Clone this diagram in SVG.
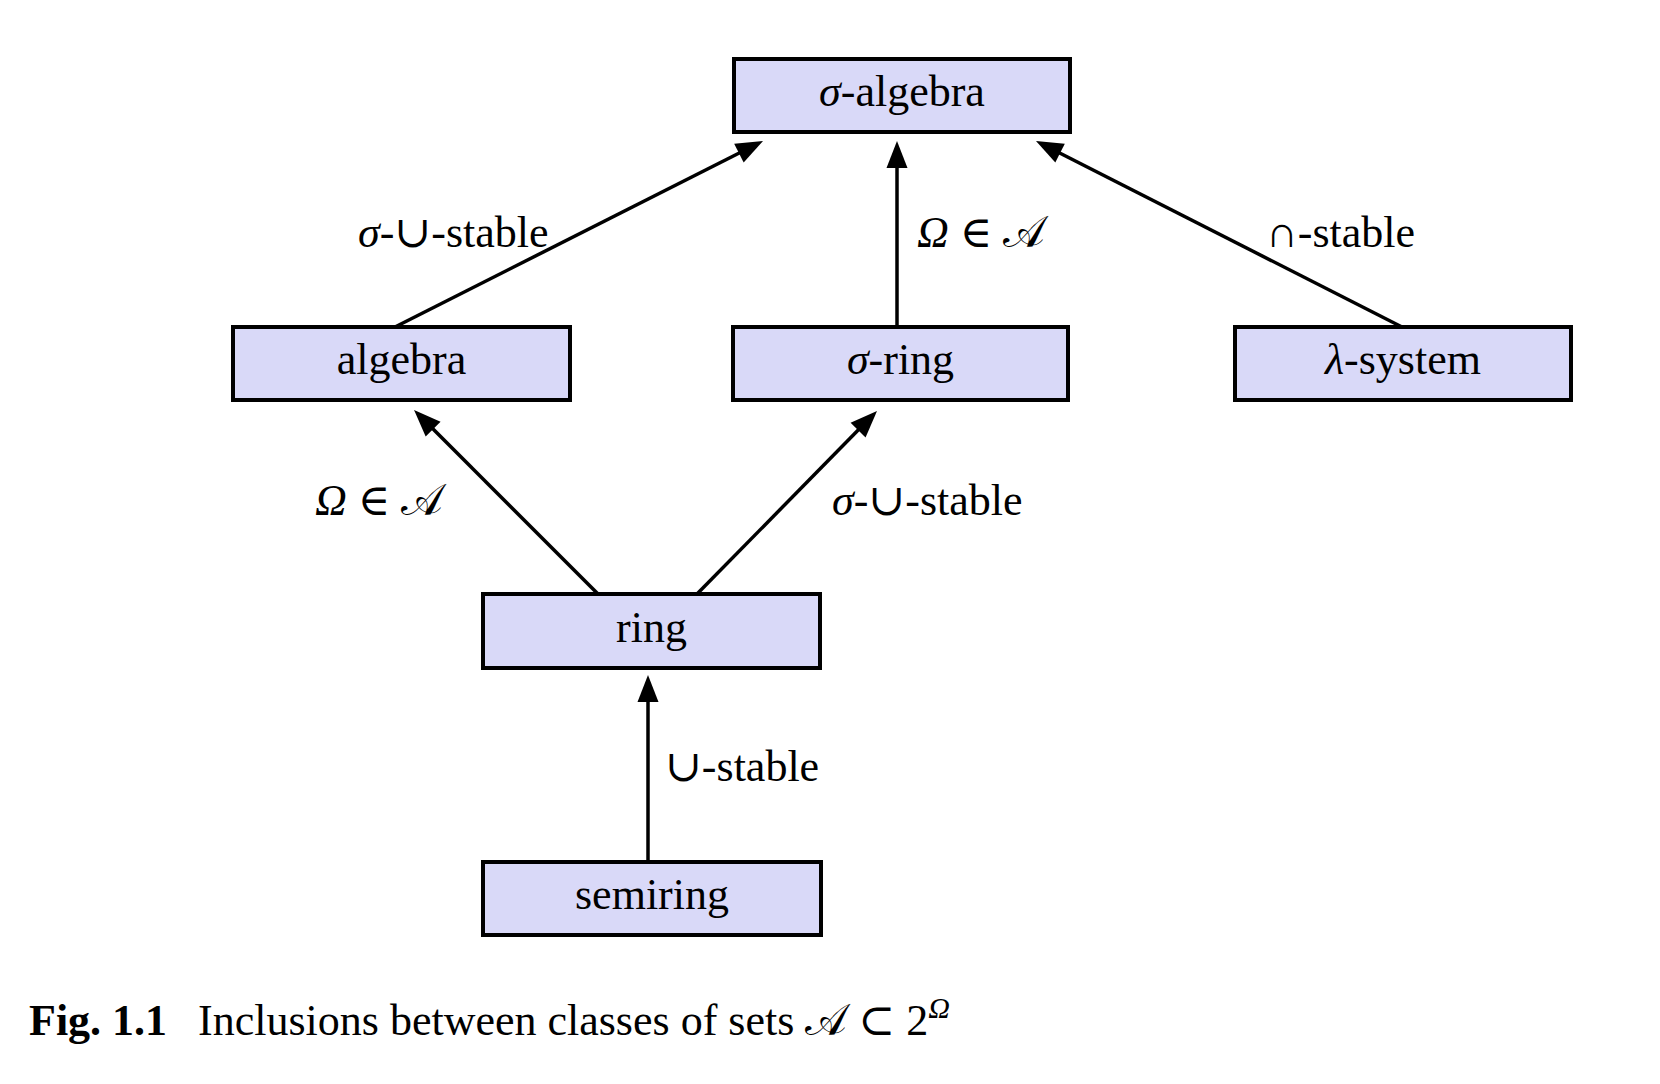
<svg xmlns="http://www.w3.org/2000/svg" width="1660" height="1084" viewBox="0 0 1660 1084">
<style>
  .box { fill: #d9d9f8; stroke: #000; stroke-width: 4; }
  .lbl { font-family: "Liberation Serif", "DejaVu Serif", serif; font-size: 44px; fill: #000; }
  .conn { stroke: #000; stroke-width: 3.5; fill: none; marker-end: url(#arr); }
  .it { font-style: italic; }
</style>
<defs>
  <marker id="arr" markerUnits="userSpaceOnUse" viewBox="-20 -12 32 24" refX="0" refY="0" markerWidth="32" markerHeight="24" orient="auto">
    <path d="M10,0 L-17,-10.5 L-17,10.5 Z" fill="#000"/>
  </marker>
</defs>
<rect width="1660" height="1084" fill="#fff"/>
<g id="connectors">
  <line class="conn" x1="395" y1="327" x2="754.1" y2="145.5"/>
  <line class="conn" x1="897" y1="327" x2="897" y2="151"/>
  <line class="conn" x1="1402" y1="327" x2="1044.9" y2="145.5"/>
  <line class="conn" x1="598" y1="594" x2="421.1" y2="417.1"/>
  <line class="conn" x1="697" y1="594" x2="870" y2="418.1"/>
  <line class="conn" x1="648" y1="862" x2="648" y2="685"/>
</g>
<g id="edge-labels" class="lbl">
  <text x="358" y="247"><tspan class="it">σ</tspan>-∪-stable</text>
  <text x="917" y="247"><tspan class="it">Ω</tspan> ∈ 𝒜</text>
  <text x="1266" y="247">∩-stable</text>
  <text x="315" y="515"><tspan class="it">Ω</tspan> ∈ 𝒜</text>
  <text x="832" y="515"><tspan class="it">σ</tspan>-∪-stable</text>
  <text x="665" y="781">∪-stable</text>
</g>
<g id="node-sigma-algebra">
  <rect class="box" x="734" y="59" width="336" height="73"/>
  <text class="lbl" x="902" y="106" text-anchor="middle"><tspan class="it">σ</tspan>-algebra</text>
</g>
<g id="node-algebra">
  <rect class="box" x="233" y="327" width="337" height="73"/>
  <text class="lbl" x="401.5" y="374" text-anchor="middle">algebra</text>
</g>
<g id="node-sigma-ring">
  <rect class="box" x="733" y="327" width="335" height="73"/>
  <text class="lbl" x="900.5" y="374" text-anchor="middle"><tspan class="it">σ</tspan>-ring</text>
</g>
<g id="node-lambda-system">
  <rect class="box" x="1235" y="327" width="336" height="73"/>
  <text class="lbl" x="1403" y="374" text-anchor="middle"><tspan class="it">λ</tspan>-system</text>
</g>
<g id="node-ring">
  <rect class="box" x="483" y="594" width="337" height="74"/>
  <text class="lbl" x="651.5" y="642" text-anchor="middle">ring</text>
</g>
<g id="node-semiring">
  <rect class="box" x="483" y="862" width="338" height="73"/>
  <text class="lbl" x="652" y="909" text-anchor="middle">semiring</text>
</g>
<g id="caption" class="lbl">
  <text x="29" y="1035"><tspan font-weight="bold">Fig. 1.1</tspan><tspan x="198">Inclusions between classes of sets 𝒜 ⊂ 2</tspan><tspan class="it" font-size="30px" dy="-17">Ω</tspan></text>
</g>
</svg>
